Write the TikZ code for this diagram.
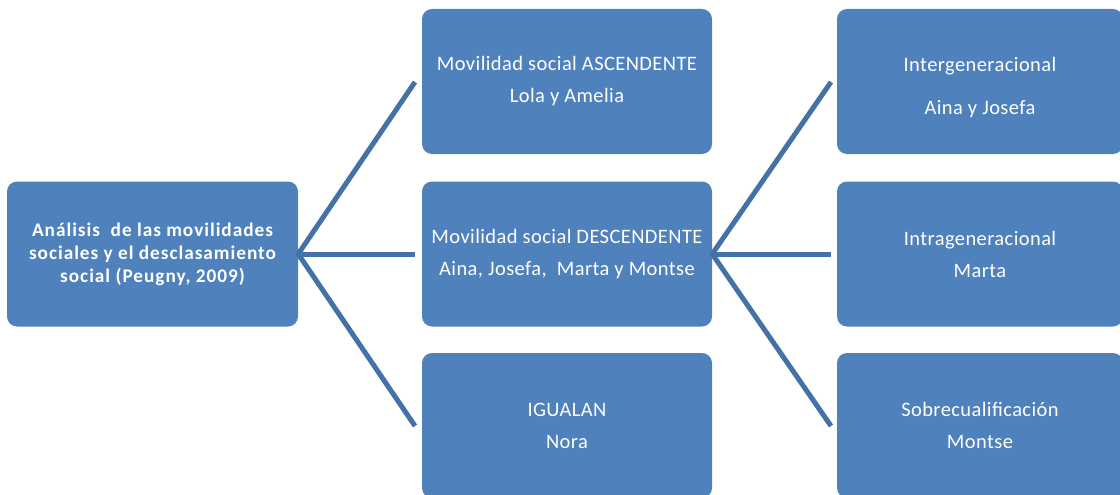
\documentclass[tikz,border=0pt]{standalone}
\usepackage{fontspec}
\setmainfont{Carlito}[LetterSpace=2]
\newfontfamily\leftfont{Carlito}[LetterSpace=5]
\definecolor{boxblue}{HTML}{4F81BD}
\definecolor{lineblue}{HTML}{4471A6}
\begin{document}
\begin{tikzpicture}[x=1pt,y=-1pt,
  box/.style={fill=boxblue, rounded corners=10pt, minimum height=145pt, inner sep=0pt,
    text=white, align=center, font=\fontsize{20.5}{32}\selectfont},
  lbox/.style={box, minimum width=291pt, font=\leftfont\fontsize{19.3}{23}\selectfont\bfseries},
  mbox/.style={box, minimum width=290pt},
  rbox/.style={box, minimum width=286pt},
  boxtext/.style={text=white, align=center, inner sep=0pt, font=\fontsize{20.5}{32}\selectfont},
  conn/.style={draw=lineblue, line width=5pt}]
\useasboundingbox (0,0) rectangle (1120,495);
\clip (0,0) rectangle (1120,495);
\node[lbox] (L) at (152.5,254) {Análisis~ de las movilidades\\sociales y el desclasamiento\\social (Peugny, 2009)};
\node[mbox] (M1) at (567,81.5) {Movilidad social ASCENDENTE\\Lola y Amelia};
\node[mbox] (M2) at (567,254) {Movilidad social DESCENDENTE\\Aina, Josefa,~ Marta y Montse};
\node[mbox] (M3) at (567,425.5) {IGUALAN\\Nora};
\node[rbox] (R1) at (980,81.5) {};
\node[boxtext] (R1t) at ([yshift=-6pt]R1.center) {Intergeneracional\\[11pt]Aina y Josefa};
\node[rbox] (R2) at (980,254) {Intrageneracional\\Marta};
\node[rbox] (R3) at (980,425.5) {Sobrecualificación\\Montse};
\coordinate (a1) at (415,82);
\coordinate (a2) at (415,254);
\coordinate (a3) at (415,426);
\coordinate (b1) at (831,82);
\coordinate (b2) at (831,254);
\coordinate (b3) at (831,426);
\draw[conn] (a1) -- (L.east) -- (a3);
\draw[conn] (L.east) -- (a2);
\draw[conn] (b1) -- (M2.east) -- (b3);
\draw[conn] (M2.east) -- (b2);
\end{tikzpicture}
\end{document}
